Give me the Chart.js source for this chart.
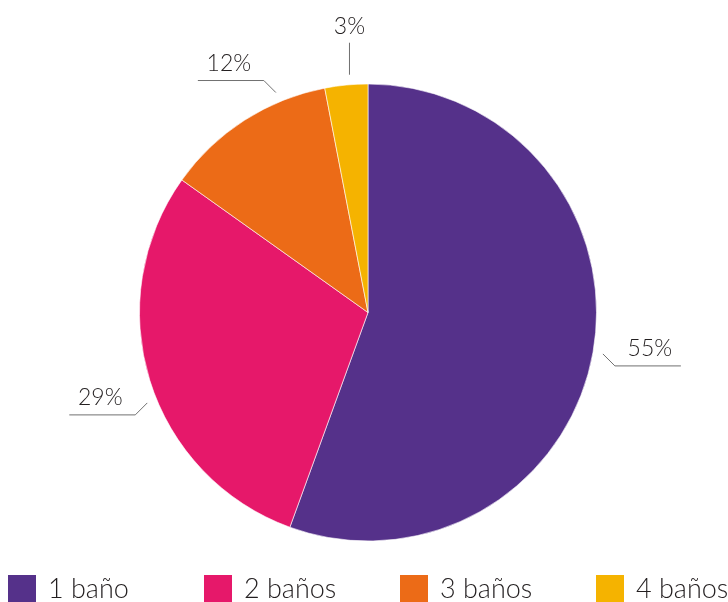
<!DOCTYPE html>
<html>
<head>
<meta charset="utf-8">
<script src="https://cdn.jsdelivr.net/npm/chart.js@4"></script>
<style>
  html, body { margin: 0; padding: 0; background: #fff; }
  canvas { display: block; }
</style>
</head>
<body>
<canvas id="chartContainer" width="728" height="602"></canvas>
<script>
// Share of homes by number of bathrooms
const labels = ['1 baño', '2 baños', '3 baños', '4 baños'];
const shares = [55, 29, 12, 3];
const colors = ['#55318a', '#e6186a', '#ec6b17', '#f5b300'];

const FONT = 'Lato, "DejaVu Sans", sans-serif';

// Percentage labels with small leader lines outside the pie
const sliceLabels = {
    id: 'sliceLabels',
    afterDatasetsDraw(chart, args, opts) {
        const ctx = chart.ctx;
        const arcs = chart.getDatasetMeta(0).data;
        ctx.save();
        ctx.font = '300 23px ' + FONT;
        ctx.fillStyle = '#231f20';
        ctx.strokeStyle = '#707070';
        ctx.lineWidth = 1;
        ctx.textAlign = 'center';
        ctx.textBaseline = 'alphabetic';
        arcs.forEach((arc, i) => {
            const p = arc.getProps(['x', 'y', 'startAngle', 'endAngle', 'outerRadius'], true);
            const mid = (p.startAngle + p.endAngle) / 2 + (opts.shift[i] || 0) * Math.PI / 180;
            const cos = Math.cos(mid), sin = Math.sin(mid);
            const r = p.outerRadius + 10;
            const x0 = p.x + r * cos, y0 = p.y + r * sin;
            const text = shares[i] + '%';
            ctx.beginPath();
            if (Math.abs(cos) < 0.2 && sin < 0) {
                // near the top: straight line up
                ctx.moveTo(x0, y0);
                ctx.lineTo(x0, y0 - 32);
                ctx.stroke();
                ctx.fillText(text, x0, y0 - 41);
            } else {
                const sx = cos < 0 ? -1 : 1, sy = sin < 0 ? -1 : 1;
                const x1 = x0 + 12 * sx, y1 = y0 + 12 * sy;
                const x2 = x1 + 66 * sx;
                ctx.moveTo(x0, y0);
                ctx.lineTo(x1, y1);
                ctx.lineTo(x2, y1);
                ctx.stroke();
                ctx.fillText(text, (x1 + x2) / 2 + 2 * sx, y1 - 10);
            }
        });
        ctx.restore();
    }
};

// Legend row along the bottom edge
const bottomLegend = {
    id: 'bottomLegend',
    afterDraw(chart) {
        const ctx = chart.ctx;
        const h = chart.height;
        ctx.save();
        ctx.font = '300 27px ' + FONT;
        ctx.textAlign = 'left';
        ctx.textBaseline = 'middle';
        labels.forEach((lab, i) => {
            const x = 8 + i * 196;
            ctx.fillStyle = colors[i];
            ctx.fillRect(x, h - 27, 28, 28);
            ctx.fillStyle = '#231f20';
            ctx.fillText(lab, x + 40, h - 13);
        });
        ctx.restore();
    }
};

new Chart(document.getElementById('chartContainer').getContext('2d'), {
    type: 'pie',
    data: {
        labels: labels,
        datasets: [{
            data: shares,
            backgroundColor: colors,
            borderColor: 'rgba(255,255,255,0.6)',
            borderWidth: 1,
            hoverOffset: 0
        }]
    },
    options: {
        responsive: false,
        animation: false,
        layout: { padding: { top: 83, bottom: 60, left: 139, right: 131 } },
        plugins: {
            legend: { display: false },
            tooltip: { enabled: false },
            sliceLabels: { shift: [0, -5, 10, 1] }
        }
    },
    plugins: [sliceLabels, bottomLegend]
});
</script>
</body>
</html>
